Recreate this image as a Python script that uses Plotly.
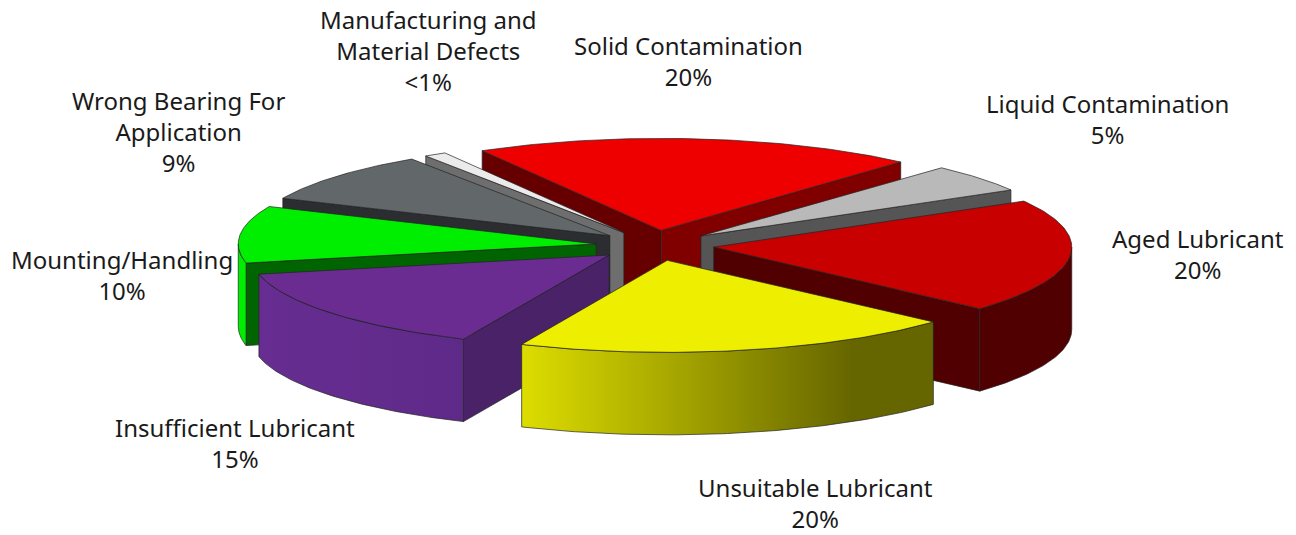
import numpy as np
import plotly.graph_objects as go

# Data
categories = ["Solid Contamination", "Liquid Contamination", "Aged Lubricant", "Unsuitable Lubricant",
              "Insufficient Lubricant", "Mounting/Handling", "Wrong Bearing For Application",
              "Manufacturing and Material Defects"]
values = [20, 5, 20, 20, 15, 10, 9, 1]
label_lines = ["Solid Contamination<br>20%", "Liquid Contamination<br>5%", "Aged Lubricant<br>20%",
               "Unsuitable Lubricant<br>20%", "Insufficient Lubricant<br>15%", "Mounting/Handling<br>10%",
               "Wrong Bearing For<br>Application<br>9%", "Manufacturing and<br>Material Defects<br><1%"]

# Styling and layout
top_colors = ["#ee0000", "#b9b9b9", "#c80000", "#eeee00", "#6a2c91", "#00ee00", "#626769", "#ebebeb"]
left_face = ["#660000", None, None, None, "#4a2268", "#006400", "#2b2d30", "#6e6e6e"]
right_face = ["#800000", "#555555", "#500000", None, None, None, None, None]
wall_colors = [None, None,
               [[0, "#500000"], [1, "#500000"]],
               [[0, "#dddd00"], [0.8, "#666600"], [1, "#666600"]],
               [[0, "#672d92"], [1, "#5e2a88"]],
               [[0, "#00ee00"], [1, "#00ee00"]], None, None]
label_x = [688, 1107, 1198, 815, 235, 122, 178, 428]
label_y = [61, 119, 254, 503, 443, 275, 131, 50]
draw_order = [0, 1, 7, 6, 5, 2, 4, 3]
CX, CY, RX, RY, DEPTH, EXPLODE, START = 655, 245.5, 358, 92, 82.5, 0.165, 120.0
EDGE = "#222222"
FONT = "Noto Sans"
FONT_SIZE = 24

fractions = np.array(values) / sum(values) * 360.0
ends = START - np.cumsum(fractions)
starts = ends + fractions

fig = go.Figure()


def poly(xs, ys, color=None, grad=None):
    kw = dict(x=xs, y=ys, mode="lines", fill="toself", hoverinfo="skip", showlegend=False,
              line=dict(color=EDGE, width=0.7))
    if grad:
        kw["fillgradient"] = dict(type="horizontal", colorscale=grad)
    else:
        kw["fillcolor"] = color
    fig.add_trace(go.Scatter(**kw))


def arc(ax, ay, a1, a2):
    t = np.radians(np.linspace(a1, a2, 80))
    return ax + RX * np.cos(t), ay - RY * np.sin(t)


for i in draw_order:
    a1, a2 = starts[i], ends[i]
    mid = np.radians((a1 + a2) / 2)
    ax = CX + EXPLODE * RX * np.cos(mid)
    ay = CY - EXPLODE * RY * np.sin(mid)
    # radial faces
    for ang, col in ((a1, left_face[i]), (a2, right_face[i])):
        if col:
            rx, ry = ax + RX * np.cos(np.radians(ang)), ay - RY * np.sin(np.radians(ang))
            poly([ax, rx, rx, ax, ax], [ay, ry, ry + DEPTH, ay + DEPTH, ay], col)
    # outer wall: the front-facing part of the rim only
    if wall_colors[i]:
        hi, lo = min(a1, 0.0), max(a2, -180.0)
        wx, wy = arc(ax, ay, hi, lo)
        xs = np.concatenate([wx, wx[::-1], wx[:1]])
        ys = np.concatenate([wy, wy[::-1] + DEPTH, wy[:1]])
        poly(xs, ys, grad=wall_colors[i])
    # top
    tx, ty = arc(ax, ay, a1, a2)
    poly(np.concatenate([[ax], tx, [ax]]), np.concatenate([[ay], ty, [ay]]), top_colors[i])

for x, y, t in zip(label_x, label_y, label_lines):
    fig.add_annotation(x=x, y=y, text=t, showarrow=False, xanchor="center", yanchor="middle",
                       font=dict(family=FONT, size=FONT_SIZE, color="#1a1a1a"), align="center")

fig.update_layout(width=1296, height=535, margin=dict(l=0, r=0, t=0, b=0), paper_bgcolor="white",
                  plot_bgcolor="white",
                  xaxis=dict(range=[0, 1296], visible=False, fixedrange=True),
                  yaxis=dict(range=[535, 0], visible=False, fixedrange=True))
fig.write_html("out.html", config=dict(displayModeBar=False),
               post_script="document.body.style.margin='0';document.body.style.overflow='hidden';")
